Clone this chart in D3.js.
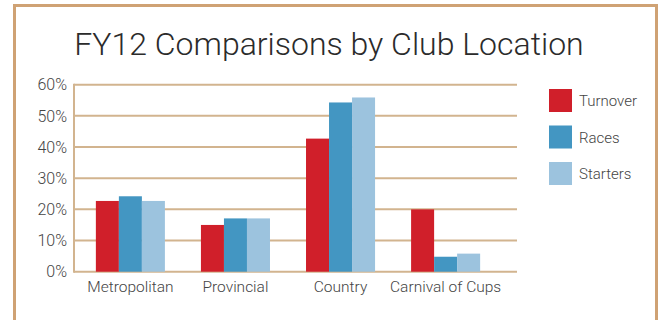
<!DOCTYPE html>
<html lang="en">
<head>
  <meta charset="UTF-8">
  <title>FY12 Comparisons by Club Location</title>
  <style>
    body { margin: 0; background: #fff; overflow: hidden; }
    svg { display: block; font-family: Roboto, "Liberation Sans", sans-serif; }
    .title { font-size: 32px; font-weight: 300; fill: #2b2b2b; }
    .tick-label { font-size: 16px; font-weight: 300; fill: #444; }
    .cat-label { font-size: 15.5px; font-weight: 300; fill: #444; }
    .legend-label { font-size: 15px; font-weight: 300; fill: #444; }
    .grid { stroke: #d2b48f; stroke-width: 2px; }
  </style>
</head>
<body>
  <script src="https://cdnjs.cloudflare.com/ajax/libs/d3/7.8.5/d3.min.js"></script>
  <script>
    const categories = ["Metropolitan", "Provincial", "Country", "Carnival of Cups"];
    const seriesNames = ["Turnover", "Races", "Starters"];
    const turnover = [22.7, 15.0, 42.7, 20.0];
    const races = [24.2, 17.1, 54.3, 4.8];
    const starters = [22.7, 17.1, 55.9, 5.8];
    const yTicks = [0, 10, 20, 30, 40, 50, 60];
    const colors = ["#d01f2a", "#4396c2", "#9cc3de"];

    const seriesValues = [turnover, races, starters];
    const width = 665, height = 320;

    const svg = d3.select("body").append("svg")
      .attr("width", width).attr("height", height);

    // frame
    svg.append("path")
      .attr("d", "M14.5,330 L14.5,5.5 L656.5,5.5 L656.5,330")
      .attr("fill", "none")
      .attr("stroke", "#cfa274")
      .attr("stroke-width", 3);

    svg.append("text")
      .attr("class", "title")
      .attr("x", 329).attr("y", 55)
      .attr("text-anchor", "middle")
      .text("FY12 Comparisons by Club Location");

    const plotLeft = 74, plotRight = 517;
    const y = d3.scaleLinear().domain([0, 60]).range([271.7, 84.7]);
    const x0 = d3.scaleBand().domain(categories).range([78, 498]).paddingInner(0.343).paddingOuter(0.17);
    const x1 = d3.scaleBand().domain(seriesNames).range([0, x0.bandwidth()]);

    // gridlines
    svg.append("g").selectAll("line").data(yTicks).enter().append("line")
      .attr("class", "grid")
      .attr("x1", plotLeft).attr("x2", plotRight)
      .attr("y1", d => y(d)).attr("y2", d => y(d));

    // y axis line
    svg.append("line")
      .attr("class", "grid")
      .attr("x1", plotLeft).attr("x2", plotLeft)
      .attr("y1", y(60) - 1).attr("y2", y(0) + 1);

    svg.append("g").selectAll("text").data(yTicks).enter().append("text")
      .attr("class", "tick-label")
      .attr("x", 67).attr("y", d => y(d))
      .attr("dy", "0.36em")
      .attr("text-anchor", "end")
      .text(d => d + "%");

    // bars
    const groups = svg.append("g").selectAll("g").data(categories).enter().append("g")
      .attr("transform", d => `translate(${x0(d)},0)`);

    groups.selectAll("rect")
      .data((c, ci) => seriesNames.map((s, si) => ({ s, si, v: seriesValues[si][ci] })))
      .enter().append("rect")
      .attr("x", d => x1(d.s))
      .attr("width", x1.bandwidth())
      .attr("y", d => y(d.v))
      .attr("height", d => y(0) - y(d.v))
      .attr("fill", d => colors[d.si]);

    svg.append("g").selectAll("text").data(categories).enter().append("text")
      .attr("class", "cat-label")
      .attr("x", d => x0(d) + x0.bandwidth() / 2)
      .attr("y", 292)
      .attr("text-anchor", "middle")
      .text(d => d);

    // legend
    const legend = svg.append("g").selectAll("g").data(seriesNames).enter().append("g")
      .attr("transform", (d, i) => `translate(549,${89 + i * 36.5})`);
    legend.append("rect")
      .attr("width", 23).attr("height", 23)
      .attr("fill", (d, i) => colors[i]);
    legend.append("text")
      .attr("class", "legend-label")
      .attr("x", 30).attr("y", 17)
      .text(d => d);
  </script>
</body>
</html>
